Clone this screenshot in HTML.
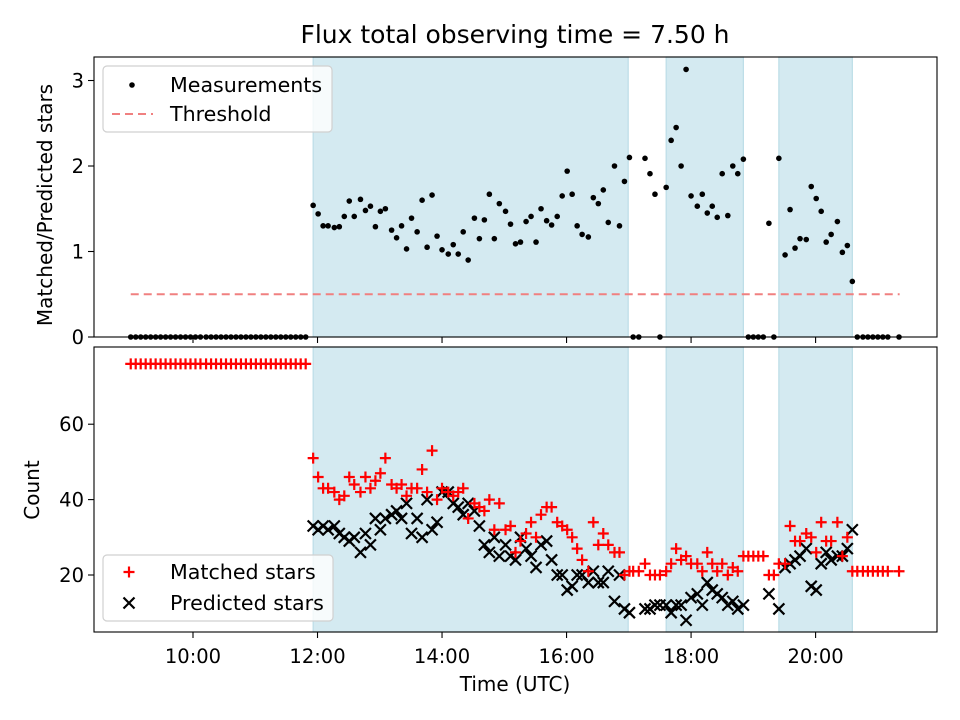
<!DOCTYPE html>
<html><head><meta charset="utf-8"><style>
html,body{margin:0;padding:0;background:#fff;}
svg{display:block;font-family:"DejaVu Sans","Liberation Sans",sans-serif;}
</style></head><body>
<svg id="chart" width="960" height="720" viewBox="0 0 960 720"></svg>
<script>
const times=[9.00,9.08,9.16,9.24,9.32,9.40,9.48,9.56,9.64,9.72,9.80,9.88,9.96,10.04,10.12,10.21,10.29,10.37,10.45,10.53,10.61,10.69,10.77,10.85,10.93,11.01,11.09,11.17,11.25,11.33,11.41,11.49,11.57,11.65,11.73,11.81,
11.93,12.01,12.09,12.17,12.27,12.35,12.43,12.51,12.59,12.69,12.77,12.85,12.93,13.01,13.09,13.19,13.27,13.35,13.43,13.51,13.60,13.68,13.76,13.84,13.92,14.00,14.10,14.18,14.26,14.34,14.42,14.52,14.60,14.68,14.76,14.84,14.92,15.02,15.10,15.18,15.26,15.35,15.43,15.51,15.59,15.68,15.76,15.85,15.93,16.01,16.09,16.17,16.25,16.35,16.43,16.51,16.59,16.67,16.77,16.85,16.93,17.01,
17.07,17.16,17.26,17.34,17.42,17.50,17.60,17.68,17.76,17.84,17.92,18.00,18.10,18.18,18.26,18.34,18.42,18.50,18.59,18.67,18.75,18.84,18.92,19.00,19.08,19.16,19.25,19.33,19.41,19.51,19.59,19.67,19.75,19.85,19.93,20.01,20.09,20.17,20.25,20.35,20.43,20.51,20.59,20.67,20.76,20.84,20.92,21.00,21.08,21.16,21.34];
const ratio=[0,0,0,0,0,0,0,0,0,0,0,0,0,0,0,0,0,0,0,0,0,0,0,0,0,0,0,0,0,0,0,0,0,0,0,0,
1.54,1.44,1.30,1.30,1.28,1.29,1.41,1.59,1.41,1.61,1.48,1.53,1.29,1.47,1.50,1.25,1.16,1.30,1.03,1.39,1.23,1.60,1.05,1.66,1.18,1.02,0.97,1.08,0.97,1.23,0.90,1.39,1.15,1.37,1.67,1.15,1.56,1.47,1.32,1.09,1.11,1.35,1.41,1.11,1.50,1.36,1.31,1.41,1.65,1.94,1.67,1.30,1.20,1.17,1.63,1.56,1.72,1.34,2.00,1.30,1.82,2.10,
0,0,2.09,1.91,1.67,0,1.75,2.30,2.45,2.00,3.13,1.65,1.53,1.67,1.45,1.53,1.40,1.91,1.42,2.00,1.91,2.08,0,0,0,0,1.33,0,2.09,0.96,1.49,1.04,1.15,1.14,1.76,1.62,1.47,1.11,1.20,1.35,0.99,1.07,0.65,0,0,0,0,0,0,0,0];
const matched=[76,76,76,76,76,76,76,76,76,76,76,76,76,76,76,76,76,76,76,76,76,76,76,76,76,76,76,76,76,76,76,76,76,76,76,76,
51,46,43,43,42,40,41,46,44,42,46,43,45,47,51,44,43,44,41,43,43,48,42,53,40,43,42,41,42,43,35,39,38,37,40,32,39,32,33,26,29,31,34,30,36,38,38,34,33,32,30,27,24,21,34,28,31,28,26,26,20,21,
21,21,23,20,20,20,21,23,27,24,25,23,23,21,26,23,21,23,20,22,21,25,25,25,25,25,20,20,23,23,33,29,29,31,30,26,34,29,29,34,25,30,21,21,21,21,21,21,21,21,21];
const predicted=[null,null,null,null,null,null,null,null,null,null,null,null,null,null,null,null,null,null,null,null,null,null,null,null,null,null,null,null,null,null,null,null,null,null,null,null,
33,32,33,32,33,31,30,29,30,26,31,28,35,32,35,36,37,35,39,31,35,30,40,32,34,42,42,39,38,36,39,37,33,28,26,30,25,28,25,24,30,27,25,22,28,29,24,20,20,16,17,20,20,18,21,18,18,21,13,20,11,10,
null,null,11,11,12,12,12,10,12,12,8,14,15,12,18,16,15,14,12,13,11,12,null,null,null,null,15,null,11,22,23,24,25,27,17,16,23,26,24,25,25,27,32,null,null,null,null,null,null,null,null];
const shadeStart=[11.93,17.60,19.41];
const shadeEnd=[16.99,18.84,20.59];
const xTicks=[10,12,14,16,18,20];
const xTickLabels=["10:00","12:00","14:00","16:00","18:00","20:00"];
const topYTicks=[0,1,2,3];
const botYTicks=[20,40,60];
const threshold=0.5;

const NS="http://www.w3.org/2000/svg";
const svg=document.getElementById('chart');
function mk(tag,attrs,parent){const e=document.createElementNS(NS,tag);for(const k in attrs)e.setAttribute(k,attrs[k]);(parent||svg).appendChild(e);return e;}
const L=94,R=937,X0=8.41,X1=21.95;
const sx=h=>L+(h-X0)/(X1-X0)*(R-L);
const T={top:57,bot:337,y0:0,y1:3.275};
const B={top:347,bot:632,y0:4.88,y1:80.48};
const sy=(P,v)=>P.bot-(v-P.y0)/(P.y1-P.y0)*(P.bot-P.top);

function panel(P,name){
  const g=mk('g',{});
  
  
  for(let i=0;i<shadeStart.length;i++){
    const r=mk('rect',{x:sx(shadeStart[i]),y:P.top,width:sx(shadeEnd[i])-sx(shadeStart[i]),height:P.bot-P.top,fill:'#d4eaf1',stroke:'#bcdde7','stroke-width':1.2},g);
    
    
  }
  return g;
}
function frame(P,name){
  const r=mk('rect',{x:L,y:P.top,width:R-L,height:P.bot-P.top,fill:'none',stroke:'#000','stroke-width':1.1});
  
  
  xTicks.forEach(t=>{mk('line',{x1:sx(t),x2:sx(t),y1:P.bot,y2:P.bot+6,stroke:'#000','stroke-width':1.1});});
}
const gTop=panel(T,'top-panel');
const gBot=panel(B,'bottom-panel');

const th=mk('line',{x1:sx(9.0),x2:sx(21.35),y1:sy(T,threshold),y2:sy(T,threshold),stroke:'#f08080','stroke-width':2,'stroke-dasharray':'8,5'},gTop);



times.forEach((t,i)=>{
  if(ratio[i]!==null){
    const c=mk('circle',{cx:sx(t),cy:sy(T,ratio[i]),r:2.8,fill:'#000'},gTop);
    
    
  }
});
times.forEach((t,i)=>{
  if(predicted[i]!==null){
    const x=sx(t),y=sy(B,predicted[i]),s=5.5;
    const p=mk('path',{d:`M${x-s} ${y-s}L${x+s} ${y+s}M${x-s} ${y+s}L${x+s} ${y-s}`,stroke:'#000','stroke-width':2.2,fill:'none'},gBot);
    
    
  }
});
times.forEach((t,i)=>{
  if(matched[i]!==null){
    const x=sx(t),y=sy(B,matched[i]),s=5.5;
    const p=mk('path',{d:`M${x-s} ${y}L${x+s} ${y}M${x} ${y-s}L${x} ${y+s}`,stroke:'#ff0000','stroke-width':2.2,fill:'none'},gBot);
    
    
  }
});
frame(T,'top-axes-frame');
frame(B,'bottom-axes-frame');

xTicks.forEach((t,i)=>{
  const tx=mk('text',{x:sx(t),y:B.bot+31,'text-anchor':'middle','font-size':19.5});
  tx.textContent=xTickLabels[i];
  
  
});
topYTicks.forEach(v=>{
  const y=sy(T,v);
  mk('line',{x1:L-6,x2:L,y1:y,y2:y,stroke:'#000','stroke-width':1.1});
  const tx=mk('text',{x:L-10,y:y+7,'text-anchor':'end','font-size':19.5});
  tx.textContent=String(v);
  
  
});
botYTicks.forEach(v=>{
  const y=sy(B,v);
  mk('line',{x1:L-6,x2:L,y1:y,y2:y,stroke:'#000','stroke-width':1.1});
  const tx=mk('text',{x:L-10,y:y+7,'text-anchor':'end','font-size':19.5});
  tx.textContent=String(v);
  
  
});
</script>
<svg width="960" height="720" style="position:absolute;left:0;top:0;font-family:'DejaVu Sans','Liberation Sans',sans-serif">
<text x="515" y="43" text-anchor="middle" font-size="25">Flux total observing time = 7.50 h</text>
<text transform="translate(52,205) rotate(-90)" text-anchor="middle" font-size="20">Matched/Predicted stars</text>
<text transform="translate(39,490) rotate(-90)" text-anchor="middle" font-size="20">Count</text>
<text x="515" y="691" text-anchor="middle" font-size="20">Time (UTC)</text>
<g>
<rect x="103" y="66" width="229" height="66" rx="4" fill="#fff" fill-opacity="0.8" stroke="#d0d0d0" stroke-width="1.2"/>
<circle cx="132" cy="85" r="2.8" fill="#000"/>
<text x="170" y="92" font-size="20.6">Measurements</text>
<line x1="112" x2="153" y1="114" y2="114" stroke="#f08080" stroke-width="2" stroke-dasharray="8,5"/>
<text x="170" y="121" font-size="20.6">Threshold</text>
</g>
<g>
<rect x="103" y="555" width="230" height="66" rx="4" fill="#fff" fill-opacity="0.8" stroke="#d0d0d0" stroke-width="1.2"/>
<path d="M123.5 572L134.5 572M129 566.5L129 577.5" stroke="#f00" stroke-width="2.2"/>
<text x="170" y="579" font-size="20.6">Matched stars</text>
<path d="M123.5 597.5L134.5 608.5M123.5 608.5L134.5 597.5" stroke="#000" stroke-width="2.2"/>
<text x="170" y="610" font-size="20.6">Predicted stars</text>
</g>
</svg>
</body></html>
